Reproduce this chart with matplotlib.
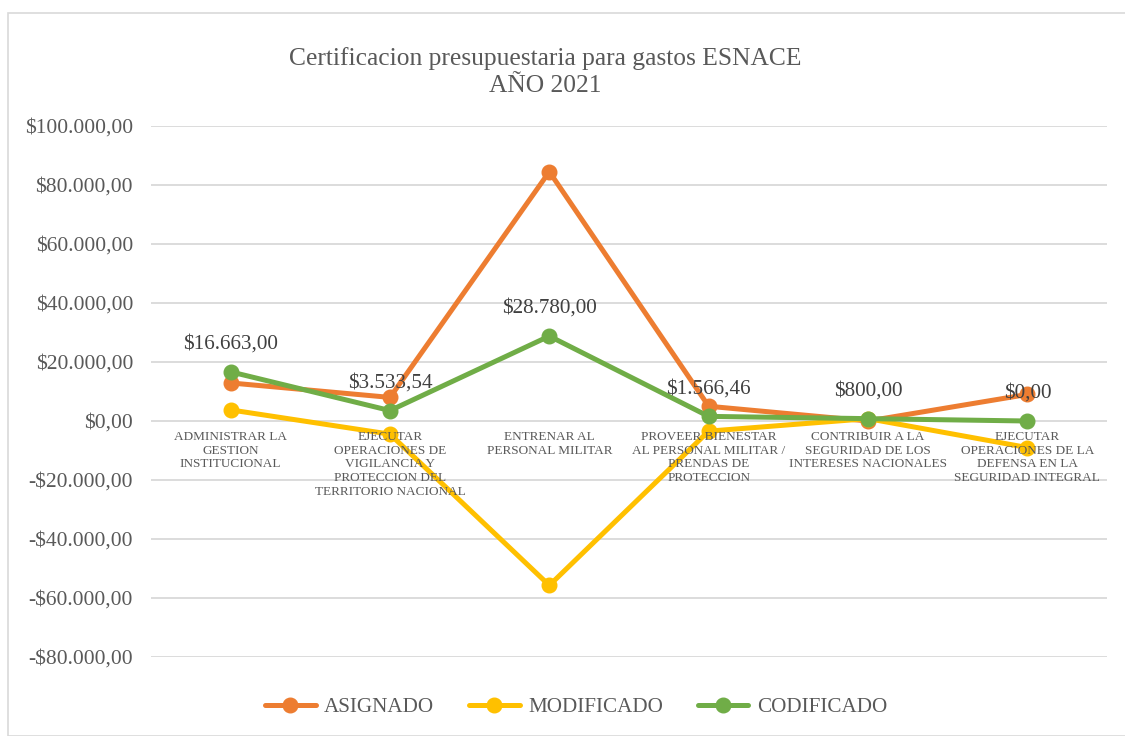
import numpy as np
import matplotlib.pyplot as plt
from matplotlib.patches import Rectangle

plt.rcParams['font.family'] = ['Liberation Serif', 'DejaVu Serif']

categorias = [
    "ADMINISTRAR LA\nGESTION\nINSTITUCIONAL",
    "EJECUTAR\nOPERACIONES DE\nVIGILANCIA Y\nPROTECCION DEL\nTERRITORIO NACIONAL",
    "ENTRENAR AL\nPERSONAL MILITAR",
    "PROVEER BIENESTAR\nAL PERSONAL MILITAR /\nPRENDAS DE\nPROTECCION",
    "CONTRIBUIR A LA\nSEGURIDAD DE LOS\nINTERESES NACIONALES",
    "EJECUTAR\nOPERACIONES DE LA\nDEFENSA EN LA\nSEGURIDAD INTEGRAL",
]
asignado = [12900, 8000, 84500, 5000, 0, 9000]
modificado = [3763, -4466.46, -55720, -3433.54, 800, -9000]
codificado = [16663, 3533.54, 28780, 1566.46, 800, 0]
yticks = np.arange(-80000, 100001, 20000)

gris = "#595959"


def moneda(v):
    s = f"{abs(v):,.2f}".replace(",", "X").replace(".", ",").replace("X", ".")
    return ("-$" if v < 0 else "$") + s


fig = plt.figure(figsize=(11.25, 7.36), dpi=100)
fig.patches.append(Rectangle((8 / 1125, 0), 1.1, 1 - 13 / 736, transform=fig.transFigure,
                             fill=False, edgecolor="#d9d9d9", linewidth=1.2))
ax = fig.add_axes([151 / 1125, 1 - 657 / 736, 956 / 1125, 531 / 736])

x = np.arange(len(categorias))
series = [("ASIGNADO", asignado, "#ED7D31"),
          ("MODIFICADO", modificado, "#FFC000"),
          ("CODIFICADO", codificado, "#70AD47")]
for nombre, vals, col in series:
    ax.plot(x, vals, color=col, linewidth=3.6, marker="o", markersize=10.5,
            solid_capstyle="round", label=nombre, zorder=3)

for xi, v in zip(x, codificado):
    ax.annotate(moneda(v), (xi, v), xytext=(0, 13), textcoords="offset points",
                ha="center", va="bottom", fontsize=15.2, color="#404040", zorder=5)

for xi, cat in zip(x, categorias):
    ax.annotate(cat, (xi, 0), xytext=(0, -7), textcoords="offset points",
                ha="center", va="top", fontsize=9.5, color=gris,
                linespacing=1.2, zorder=4)

ax.set_xlim(-0.5, len(categorias) - 0.5)
ax.set_ylim(-80000, 100000)
ax.set_yticks(yticks)
ax.set_yticklabels([moneda(v) for v in yticks], fontsize=15.5, color=gris)
ax.set_xticks([])
ax.tick_params(axis="y", length=0, pad=13)
ax.grid(axis="y", color="#d9d9d9", linewidth=1.3)
ax.set_axisbelow(True)
for s in ax.spines.values():
    s.set_visible(False)

fig.text(545 / 1125, 1 - 72 / 736, "Certificacion presupuestaria para gastos ESNACE\nAÑO 2021",
         ha="center", va="center", fontsize=18.4, color=gris, linespacing=1.25)

leg = fig.legend(loc="center", bbox_to_anchor=(576 / 1125, 1 - 707 / 736), ncol=3,
                 frameon=False, fontsize=15.2, handlelength=2.4, columnspacing=1.65,
                 handletextpad=0.4)
for t in leg.get_texts():
    t.set_color(gris)

fig.savefig("out.png", dpi=100)
